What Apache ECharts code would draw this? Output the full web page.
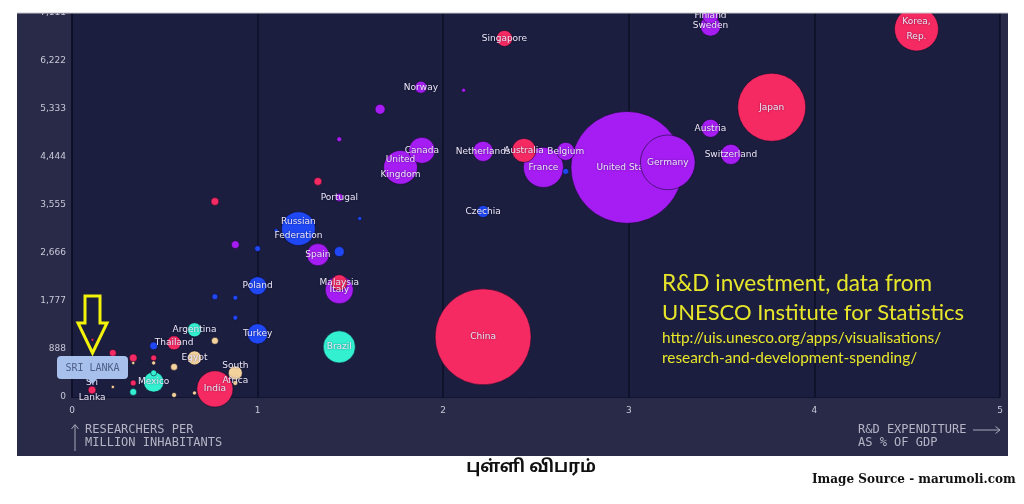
<!DOCTYPE html>
<html><head><meta charset="utf-8">
<script src="https://cdn.jsdelivr.net/npm/echarts@6/dist/echarts.min.js"></script>
<style>html,body{margin:0;padding:0;background:#fff}#c{width:1024px;height:504px}</style>
</head><body><div id="c"></div>
<script>
// ---- data ----
const regionNames = ['Europe & North America','Central & Eastern Europe','Asia & Pacific','Latin America','Africa & Arab States'];
// country label, R&D expenditure (% of GDP), researchers per million, GERD (bn PPP$), region index
const countries = ['United States','Germany','France','United\nKingdom','Canada','Italy','Spain','Netherlands','Sweden','Finland','Belgium','Austria','Switzerland','Norway','Portugal','','','','',
 'Russian\nFederation','Poland','Turkey','Czechia','','','','','','','','','',
 'China','Japan','Korea,\nRep.','India','Australia','Singapore','Malaysia','Thailand','Sri\nLanka','','','','','','','',
 'Brazil','Mexico','Argentina','','',
 'Egypt','South\nAfrica','','','','','','','',''];
const rdPct = [2.99,3.21,2.54,1.77,1.885,1.44,1.325,2.215,3.44,3.44,2.66,3.44,3.55,1.88,1.44,1.66,2.11,1.44,0.88,
 1.22,1.0,1.0,2.215,1.44,1.0,1.10,1.55,2.66,0.77,0.88,0.88,0.44,
 2.215,3.77,4.55,0.77,2.435,2.33,1.44,0.55,0.108,1.325,0.77,0.22,0.33,0.44,0.33,0.11,
 1.44,0.44,0.66,0.44,0.33,
 0.66,0.88,0.77,0.55,0.55,0.88,0.66,0.44,0.33,0.22];
const researchers = [4252,4345,4252,4252,4567,1987,2636,4549,6870,7055,4549,4976,4493,5737,3695,5329,5681,4772,2822,
 3119,2061,1170,3435,2692,2748,3082,3305,4178,1857,1838,1467,947,
 1114,5366,6814,149,4567,6640,2117,1003,130,3992,3620,817,724,724,260,1058,
 928,278,1244,446,93,
 724,446,1040,557,37,260,74,631,631,186];
const gerd = [460,110,59,42,25,29,18,15,15,9.4,12,12,15,5.3,2.3,3.7,0.6,0.9,2.3,
 42,12,15,5.3,3.7,1.3,0.6,0.6,1.3,1.3,0.9,0.9,2.3,
 338,170,71,48,21,9.4,9.4,7.2,2.3,2.3,2.3,1.8,2.3,1.3,1.3,0.3,
 38,15,7.2,1.3,1.8,
 7.2,7.2,1.8,1.8,0.9,0.9,0.6,0.6,0.4,0.4];
const region = [0,0,0,0,0,0,0,0,0,0,0,0,0,0,0,0,0,0,0,
 1,1,1,1,1,1,1,1,1,1,1,1,1,
 2,2,2,2,2,2,2,2,2,2,2,2,2,2,2,2,
 3,3,3,3,3,
 4,4,4,4,4,4,4,4,4,4];
const xTicks = [0,1,2,3,4,5];
const yTickLabels = ['0','888','1,777','2,666','3,555','4,444','5,333','6,222','7,111'];
const yInterval = 8000/9;

// ---- styles ----
const regionColors = ['#a51df2','#1f48f4','#f52a62','#33f0d0','#f3d29c'];
const backLayer = ['United States'];

const chart = echarts.init(document.getElementById('c'), null, {renderer:'canvas'});
function pts(r, back){
  const out=[];
  for(let i=0;i<countries.length;i++){
    if(region[i]!==r) continue;
    if(backLayer.includes(countries[i])!==back) continue;
    out.push([rdPct[i],researchers[i],gerd[i],countries[i]]);
  }
  return out;
}
const series=[];
regionNames.forEach((nm,r)=>{
  [true,false].forEach(back=>{
    const d=pts(r,back);
    if(!d.length) return;
    series.push({
      type:'scatter', name:nm, z: back?1:2, data:d,
      symbolSize: v=>5.22*Math.sqrt(v[2]),
      itemStyle:{color:regionColors[r], opacity:1, borderColor:'rgba(15,10,40,0.55)', borderWidth:1},
      label:{show:true, position:'inside', formatter:p=>p.data[3], color:'#ece6f8',
        fontFamily:'DejaVu Sans', fontSize:9, lineHeight:14.5,
        textShadowColor:'rgba(10,5,30,0.5)', textShadowBlur:2},
      emphasis:{disabled:true}
    });
  });
});

const T = (x,y,text,style,z)=>({type:'text',x,y,z:z||50,style:Object.assign({text},style)});
const mono = {font:'12px "DejaVu Sans Mono"', fill:'#b4b4c6', textVerticalAlign:'middle'};
const yel = {fill:'#e8e62a', textVerticalAlign:'middle'};

chart.setOption({
  backgroundColor:'#ffffff',
  animation:false,
  grid:{left:72,right:24,top:13,bottom:107,show:true,backgroundColor:'#1b1e3f',borderWidth:0},
  xAxis:{type:'value',min:xTicks[0],max:xTicks[xTicks.length-1],interval:1,
    axisLine:{show:true,lineStyle:{color:'#121330',width:1}},axisTick:{show:false},
    splitLine:{show:true,lineStyle:{color:'#0e0f26',width:1.5}},
    axisLabel:{color:'#c8c8d8',fontSize:9,margin:9,fontFamily:'DejaVu Sans'}},
  yAxis:{type:'value',min:0,max:8*yInterval,interval:yInterval,
    axisLine:{show:true,lineStyle:{color:'#0e0f26',width:1.5}},axisTick:{show:false},
    splitLine:{show:false},
    axisLabel:{color:'#c8c8d8',fontSize:9,margin:6,fontFamily:'DejaVu Sans',formatter:(v,i)=>yTickLabels[i]}},
  series,
  graphic:[
    {type:'rect',z:-10,shape:{x:17,y:13,width:991,height:443},style:{fill:'#282a47'}},
    {type:'rect',z:100,shape:{x:0,y:0,width:1024,height:13},style:{fill:'#ffffff'}},
    {type:'line',z:100,shape:{x1:17,y1:13,x2:1008,y2:13},style:{stroke:'#c8c8d0',lineWidth:1}},
    // yellow arrow
    {type:'polygon',z:60,shape:{points:[[85,296],[100,296],[100,323],[107,323],[92.5,353],[78,323],[85,323]]},
      style:{fill:'none',stroke:'#f2f20a',lineWidth:3}},
    // Sri Lanka tooltip
    {type:'rect',z:60,shape:{x:57,y:356,width:71,height:23,r:4},style:{fill:'#a7c0ec'}},
    {type:'polygon',z:60,shape:{points:[[88,379],[97,379],[92.5,384]]},style:{fill:'#a7c0ec'}},
    T(92.5,368,'SRI LANKA',{font:'10px "DejaVu Sans Mono"',fill:'#4f6088',textAlign:'center',textVerticalAlign:'middle'},70),
    // axis titles
    {type:'line',z:50,shape:{x1:75,y1:451,x2:75,y2:425},style:{stroke:'#a8a8bb',lineWidth:1}},
    {type:'polyline',z:50,shape:{points:[[71.5,429],[75,424.5],[78.5,429]]},style:{stroke:'#a8a8bb',lineWidth:1,fill:'none'}},
    T(85,430,'RESEARCHERS PER',mono),
    T(85,443,'MILLION INHABITANTS',mono),
    T(858,430,'R&D EXPENDITURE',mono),
    T(858,443,'AS % OF GDP',mono),
    {type:'line',z:50,shape:{x1:973,y1:430,x2:1000,y2:430},style:{stroke:'#a8a8bb',lineWidth:1}},
    {type:'polyline',z:50,shape:{points:[[995.5,426.5],[1000,430],[995.5,433.5]]},style:{stroke:'#a8a8bb',lineWidth:1,fill:'none'}},
    // annotation
    T(662,284,'R&D investment, data from',Object.assign({font:'22.6px Lato'},yel)),
    T(662,313,'UNESCO Institute for Statistics',Object.assign({font:'22px Lato'},yel)),
    T(662,338,'http://uis.unesco.org/apps/visualisations/',Object.assign({font:'15.4px Lato'},yel)),
    T(662,358,'research-and-development-spending/',Object.assign({font:'15.4px Lato'},yel)),
    // caption
    T(531,469,'புள்ளி விபரம்',{font:'bold 17px "Noto Sans Tamil","Noto Sans",sans-serif',fill:'#111',textAlign:'center',textVerticalAlign:'middle'}),
    T(812,480,'Image Source - marumoli.com',{font:'bold 12px "DejaVu Serif"',fill:'#111',textVerticalAlign:'middle'})
  ]
});
</script></body></html>
